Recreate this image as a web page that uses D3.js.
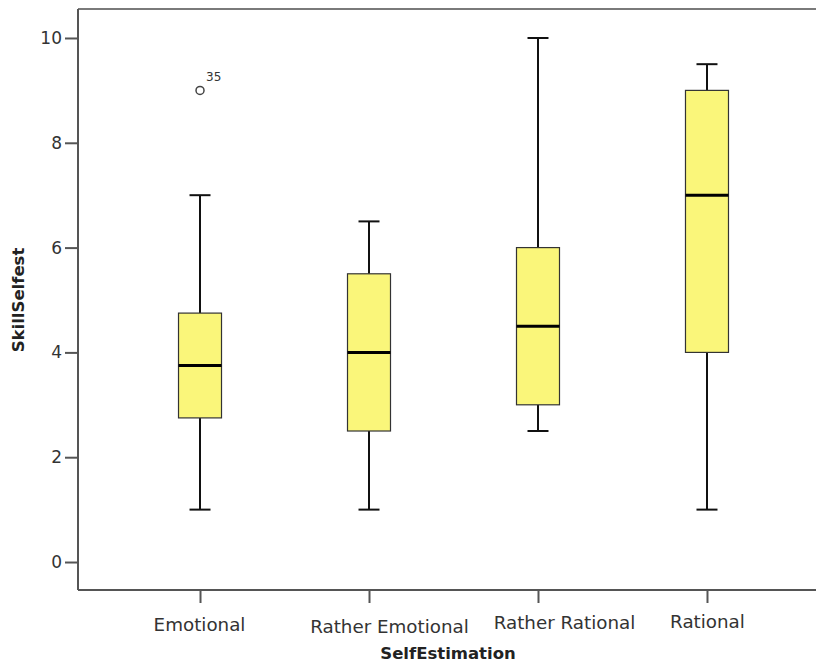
<!DOCTYPE html>
<html>
<head>
<meta charset="utf-8">
<script src="https://cdn.jsdelivr.net/npm/d3@7"></script>
<style>
  html, body { margin: 0; padding: 0; background: #fff; overflow: hidden; }
  svg { display: block; font-family: "DejaVu Sans", sans-serif; }
</style>
</head>
<body>
<svg id="chart" width="816" height="662"></svg>
<script>
// Five-number summaries of SkillSelfest per SelfEstimation group
const categories = ["Emotional", "Rather Emotional", "Rather Rational", "Rational"];
const whiskerLow  = [1, 1, 2.5, 1];
const q1          = [2.75, 2.5, 3, 4];
const median      = [3.75, 4, 4.5, 7];
const q3          = [4.75, 5.5, 6, 9];
const whiskerHigh = [7, 6.5, 10, 9.5];

// Outliers: group, value, case label
const outlierGroup = ["Emotional"];
const outlierValue = [9];
const outlierCase  = ["35"];

const yTicks = [0, 2, 4, 6, 8, 10];

// per-label nudges of the category labels (staggered layout)
const labelNudgeX = [-1, 20, 26, 0];
const labelNudgeY = [7, 9, 5, 4];

const svg = d3.select("#chart");
const plotLeft = 78, plotRight = 829, plotTop = 9, plotBottom = 590;

const x = d3.scalePoint().domain(categories).range([plotLeft, plotRight]).padding(0.722);
const y = d3.scaleLinear().domain([-0.534, 10.553]).range([plotBottom, plotTop]);

const boxW = 43, capW = 21;

// frame top line
svg.append("line")
  .attr("x1", plotLeft).attr("x2", plotRight).attr("y1", plotTop).attr("y2", plotTop)
  .attr("stroke", "#7a7a7a").attr("stroke-width", 2);

// y axis
const yAxis = svg.append("g")
  .attr("transform", `translate(${plotLeft},0)`)
  .call(d3.axisLeft(y).tickValues(yTicks).tickSize(13).tickPadding(3).tickFormat(d3.format("d")));
yAxis.select(".domain").attr("d", `M0,${plotTop}V${plotBottom}`).attr("stroke", "#555").attr("stroke-width", 2);
yAxis.selectAll(".tick line").attr("stroke", "#555").attr("stroke-width", 2);
yAxis.selectAll(".tick text").attr("font-size", 17).attr("fill", "#333")
  .attr("font-family", "DejaVu Sans, sans-serif");

// x axis
const xAxis = svg.append("g")
  .attr("transform", `translate(0,${plotBottom})`)
  .call(d3.axisBottom(x).tickSize(13).tickPadding(8));
xAxis.select(".domain").attr("d", `M${plotLeft},0H${plotRight}`).attr("stroke", "#555").attr("stroke-width", 2);
xAxis.selectAll(".tick line").attr("stroke", "#555").attr("stroke-width", 2);
xAxis.selectAll(".tick text").attr("font-size", 18.3).attr("fill", "#333")
  .attr("font-family", "DejaVu Sans, sans-serif")
  .attr("dx", (d, i) => labelNudgeX[i])
  .attr("transform", (d, i) => `translate(0,${labelNudgeY[i]})`);

// axis titles
svg.append("text")
  .attr("x", 448).attr("y", 659)
  .attr("text-anchor", "middle")
  .attr("font-size", 16.5).attr("font-weight", "bold").attr("fill", "#222")
  .text("SelfEstimation");

svg.append("text")
  .attr("transform", `translate(24,300) rotate(-90)`)
  .attr("text-anchor", "middle")
  .attr("font-size", 16.5).attr("font-weight", "bold").attr("fill", "#222")
  .text("SkillSelfest");

// boxes
const rows = categories.map((c, i) => ({
  c, lo: whiskerLow[i], q1: q1[i], med: median[i], q3: q3[i], hi: whiskerHigh[i]
}));

const g = svg.append("g").selectAll("g").data(rows).join("g");

// whisker stems
g.append("line")
  .attr("x1", d => x(d.c)).attr("x2", d => x(d.c))
  .attr("y1", d => y(d.q3)).attr("y2", d => y(d.hi))
  .attr("stroke", "#111").attr("stroke-width", 2);
g.append("line")
  .attr("x1", d => x(d.c)).attr("x2", d => x(d.c))
  .attr("y1", d => y(d.q1)).attr("y2", d => y(d.lo))
  .attr("stroke", "#111").attr("stroke-width", 2);
// caps
g.append("line")
  .attr("x1", d => x(d.c) - capW / 2).attr("x2", d => x(d.c) + capW / 2)
  .attr("y1", d => y(d.hi)).attr("y2", d => y(d.hi))
  .attr("stroke", "#111").attr("stroke-width", 2);
g.append("line")
  .attr("x1", d => x(d.c) - capW / 2).attr("x2", d => x(d.c) + capW / 2)
  .attr("y1", d => y(d.lo)).attr("y2", d => y(d.lo))
  .attr("stroke", "#111").attr("stroke-width", 2);
// box
g.append("rect")
  .attr("x", d => x(d.c) - boxW / 2).attr("width", boxW)
  .attr("y", d => y(d.q3)).attr("height", d => y(d.q1) - y(d.q3))
  .attr("fill", "#faf67a").attr("stroke", "#333").attr("stroke-width", 1.2);
// median
g.append("line")
  .attr("x1", d => x(d.c) - boxW / 2).attr("x2", d => x(d.c) + boxW / 2)
  .attr("y1", d => y(d.med)).attr("y2", d => y(d.med))
  .attr("stroke", "#000").attr("stroke-width", 3);

// outliers
const outliers = outlierGroup.map((c, i) => ({ c, v: outlierValue[i], label: outlierCase[i] }));
svg.append("g").selectAll("circle").data(outliers).join("circle")
  .attr("cx", d => x(d.c)).attr("cy", d => y(d.v)).attr("r", 4)
  .attr("fill", "none").attr("stroke", "#444").attr("stroke-width", 1.5);
svg.append("g").selectAll("text").data(outliers).join("text")
  .attr("x", d => x(d.c) + 6).attr("y", d => y(d.v) - 9)
  .attr("font-size", 12).attr("fill", "#333")
  .text(d => d.label);
</script>
</body>
</html>
